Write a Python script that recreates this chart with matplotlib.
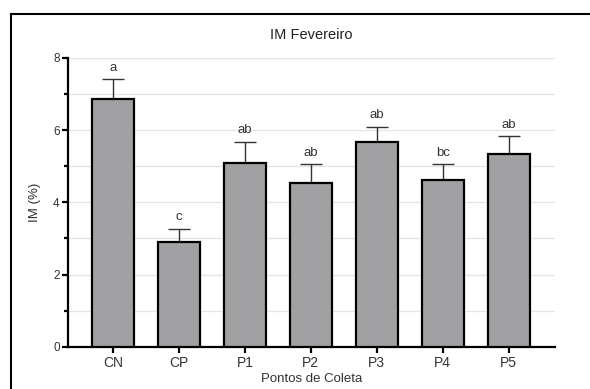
import numpy as np
import matplotlib.pyplot as plt
from matplotlib.patches import Rectangle

plt.rcParams['font.family'] = ['Liberation Sans', 'DejaVu Sans']

pontos = ['CN', 'CP', 'P1', 'P2', 'P3', 'P4', 'P5']
im_media = [6.87, 2.91, 5.10, 4.53, 5.68, 4.62, 5.33]
im_erro = [0.55, 0.36, 0.58, 0.52, 0.42, 0.43, 0.50]
letras = ['a', 'c', 'ab', 'ab', 'ab', 'bc', 'ab']

fig = plt.figure(figsize=(5.9, 3.89), dpi=100)
ax = fig.add_axes([0.1153, 0.1088, 0.8254, 0.7421])

x = np.arange(len(pontos))
ax.bar(x, im_media, width=0.64, color='#a1a1a4', edgecolor='black', linewidth=1.6, zorder=3)
ax.errorbar(x, im_media, yerr=[np.zeros(len(x)), im_erro], fmt='none',
            ecolor='#333333', elinewidth=1.0, capsize=8, capthick=1.0, zorder=2)

for xi, m, e, l in zip(x, im_media, im_erro, letras):
    ax.text(xi, m + e + 0.15, l, ha='center', va='bottom', fontsize=9.5, color='#333333')

ax.set_xlim(-0.68, 6.70)
ax.set_ylim(0, 8)
ax.set_yticks([0, 2, 4, 6, 8])
ax.set_yticks([1, 3, 5, 7], minor=True)
ax.set_xticks(x)
ax.set_xticklabels(pontos)
for yg in range(1, 9):
    ax.axhline(yg, color='#e4e4e4', linewidth=0.9, zorder=0)

for s in ['top', 'right']:
    ax.spines[s].set_visible(False)
for s in ['left', 'bottom']:
    ax.spines[s].set_linewidth(1.6)
ax.tick_params(axis='both', which='major', length=4, width=1.6,
               labelcolor='#333333', pad=2)
ax.tick_params(axis='y', labelsize=8.5)
ax.tick_params(axis='x', labelsize=10, pad=3)
ax.tick_params(axis='y', which='minor', length=3, width=1.6)

ax.set_title('IM Fevereiro', fontsize=10.5, color='#222222', pad=14)
ax.set_ylabel('IM (%)', fontsize=9.5, color='#333333', labelpad=9)
ax.set_xlabel('Pontos de Coleta', fontsize=9.5, color='#333333', labelpad=2)

# moldura da figura
fig.patches.append(Rectangle((11 / 590, -0.2), 1.2, 1.2 - 14 / 389,
                             transform=fig.transFigure, fill=False,
                             edgecolor='black', linewidth=1.5, zorder=10))

fig.savefig('out.png', dpi=100)
